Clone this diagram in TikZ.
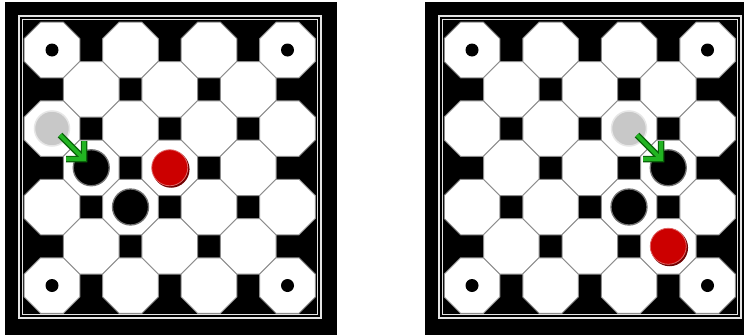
\documentclass[tikz,border=0pt]{standalone}
\usetikzlibrary{calc}
\definecolor{framegray}{HTML}{E4E4E4}
\definecolor{octline}{HTML}{8C8C8C}
\definecolor{pieceg}{HTML}{C8C8C8}
\definecolor{piecered}{HTML}{CC0000}
\definecolor{redshadow}{HTML}{700000}
\definecolor{arrowgreen}{HTML}{22B422}
\definecolor{arrowdark}{HTML}{0A650A}
\begin{document}
\begin{tikzpicture}[x=1pt,y=-1pt,
  octpath/.style={fill=white,draw=octline,line width=1pt},
  cornerdot/.style={circle,fill=black,minimum size=13pt,inner sep=0pt},
  graypiece/.style={circle,fill=pieceg,draw=pieceg!45,line width=1.5pt,minimum size=35pt,inner sep=0pt},
  blackpiece/.style={circle,fill=black,draw=black!55,line width=1.3pt,minimum size=36pt,inner sep=0pt},
  redpiece/.style={circle,fill=piecered,draw=piecered!60,line width=0.8pt,minimum size=36pt,inner sep=0pt},
  redshade/.style={circle,fill=redshadow,minimum size=37pt,inner sep=0pt},
  arrowout/.style={draw=arrowdark,line width=6.5pt,line join=miter,line cap=butt},
  arrowin/.style={draw=arrowgreen,line width=3.8pt,line join=miter,line cap=butt}]
\useasboundingbox (0,0) rectangle (748,335);
\fill[white] (0,0) rectangle (748,335);
\def\R{30.04}
\foreach \gx/\bxa/\bxb/\bn in {52/5/337/L,472/425/744/R}{
  \fill[black] (\bxa,2) rectangle (\bxb,335);
  \draw[framegray,line width=1.8pt] ({\gx-33},16) rectangle ({\gx+269},318);
  \draw[framegray,line width=1.3pt] ({\gx-29.5},19.5) rectangle ({\gx+265.5},314.5);
  \foreach \i in {0,...,6}{
    \foreach \j in {0,...,6}{
      \pgfmathtruncatemacro{\myparity}{mod(\i+\j,2)}
      \ifnum\myparity=0
        \coordinate (o\bn-\i-\j) at ({\gx+39.25*\i},{50+39.25*\j});
        \begin{scope}[shift={(o\bn-\i-\j)}]
          \path[octpath] (22.5:\R) -- (67.5:\R) -- (112.5:\R) -- (157.5:\R)
            -- (202.5:\R) -- (247.5:\R) -- (292.5:\R) -- (337.5:\R) -- cycle;
        \end{scope}
      \fi
    }
  }
  \node[cornerdot] (d\bn1) at (o\bn-0-0) {};
  \node[cornerdot] (d\bn2) at (o\bn-6-0) {};
  \node[cornerdot] (d\bn3) at (o\bn-0-6) {};
  \node[cornerdot] (d\bn4) at (o\bn-6-6) {};
}
% left board pieces
\node[graypiece] (gL) at (oL-0-2) {};
\node[blackpiece] (bL1) at (oL-1-3) {};
\node[blackpiece] (bL2) at (oL-2-4) {};
\node[redshade] (sL) at ($(oL-3-3)+(1.3,1.5)$) {};
\node[redpiece] (rL) at (oL-3-3) {};
% right board pieces
\node[graypiece] (gR) at (oR-4-2) {};
\node[blackpiece] (bR1) at (oR-5-3) {};
\node[blackpiece] (bR2) at (oR-4-4) {};
\node[redshade] (sR) at ($(oR-5-5)+(1.3,1.5)$) {};
\node[redpiece] (rR) at (oR-5-5) {};
% arrows
\foreach \g/\b in {gL/bL1,gR/bR1}{
  \coordinate (\g-tail) at ($(\g)+(8,6.5)$);
  \coordinate (\g-tip) at ($(\b)+(-7.25,-8.75)$);
  \coordinate (\g-armA) at ($(\g-tip)+(-18,0)$);
  \coordinate (\g-armB) at ($(\g-tip)+(0,-18)$);
  \draw[arrowout] (\g-tail) -- (\g-tip) (\g-armA) -- (\g-tip) -- (\g-armB);
  \draw[arrowin] (\g-tail) -- (\g-tip) (\g-armA) -- (\g-tip) -- (\g-armB);
}
\end{tikzpicture}
\end{document}
